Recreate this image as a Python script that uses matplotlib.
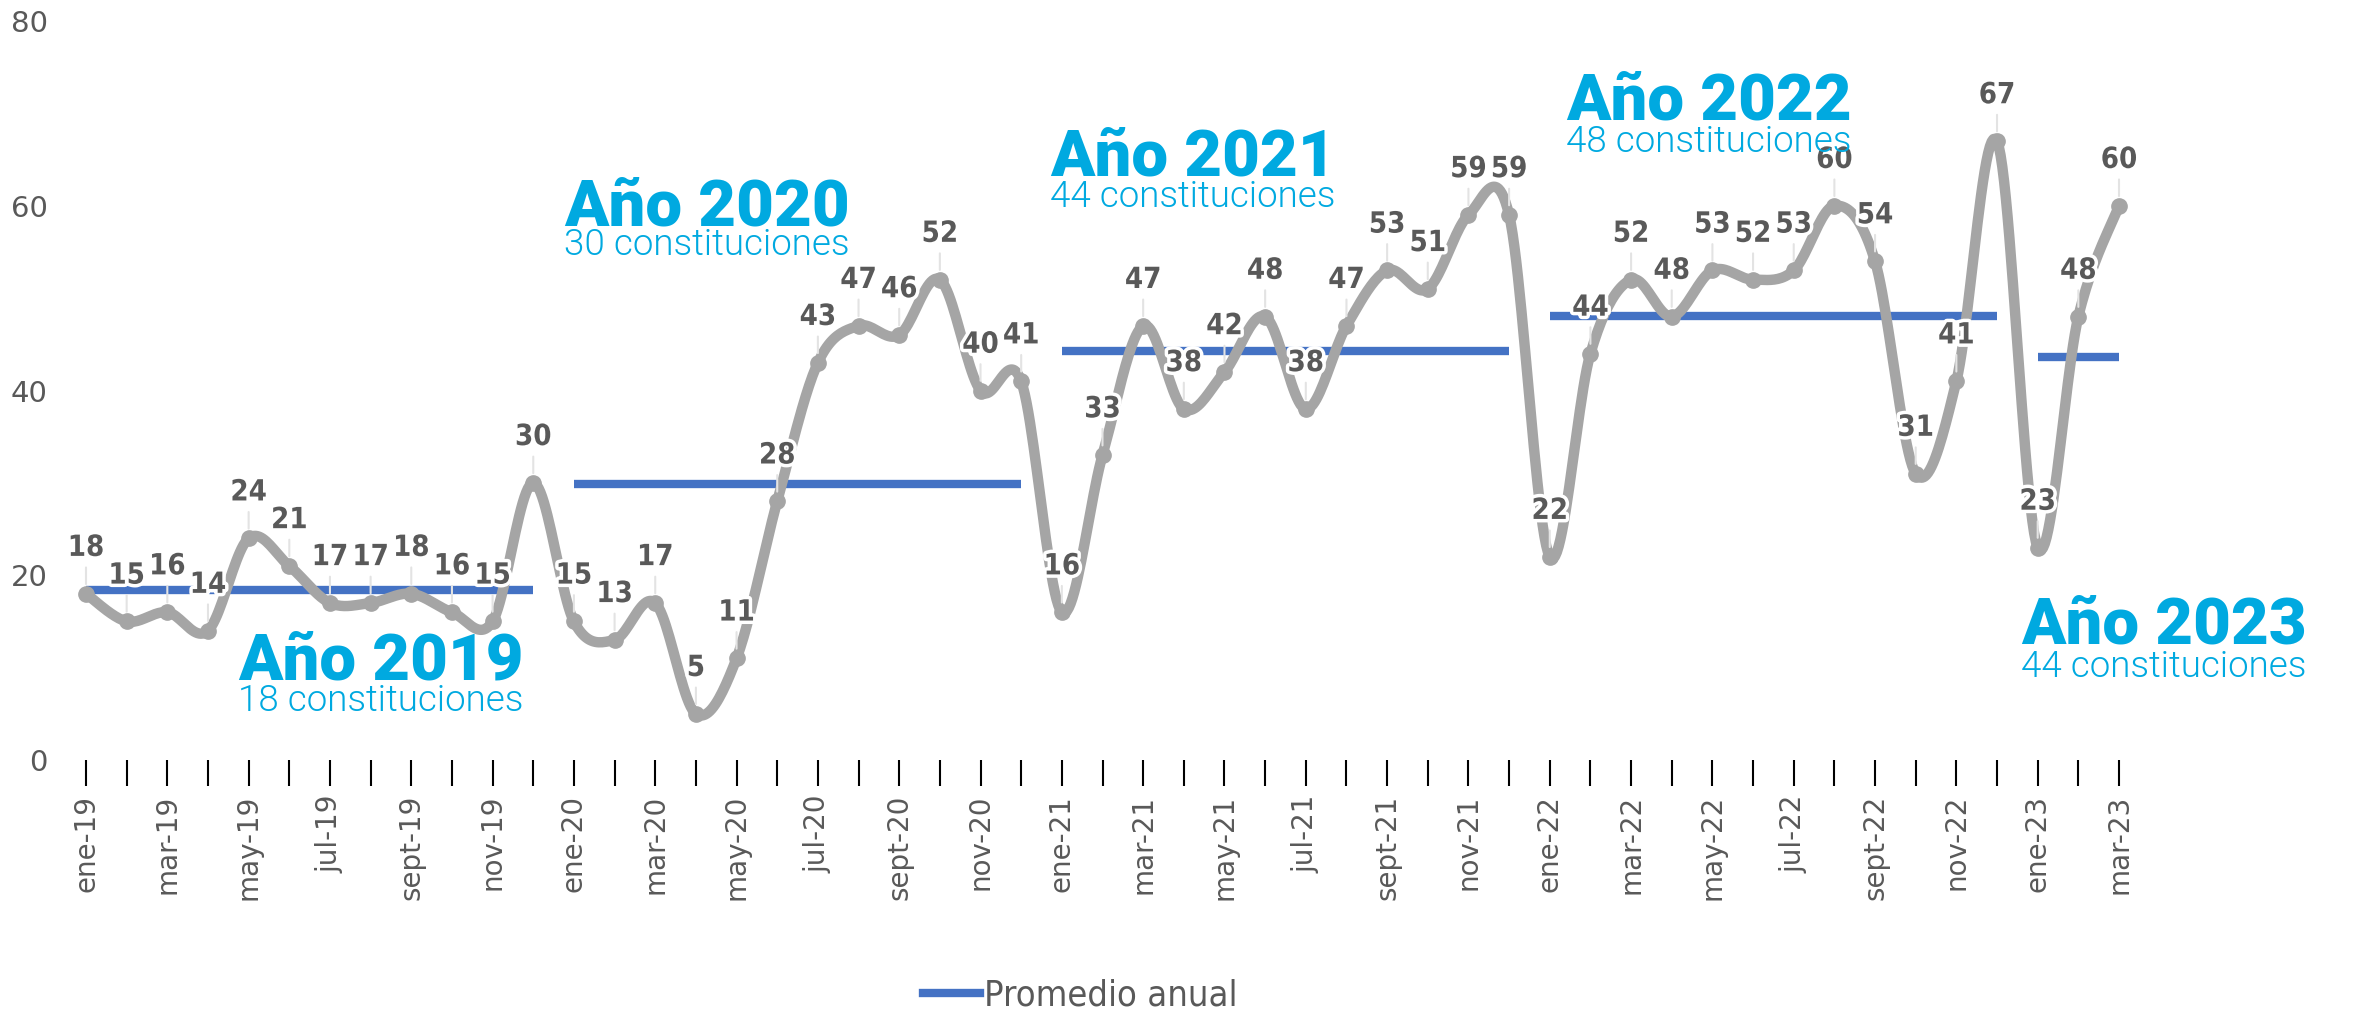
import matplotlib
matplotlib.use('Agg')
import matplotlib.pyplot as plt
import matplotlib.patheffects as pe
from matplotlib.lines import Line2D
import numpy as np

# monthly data, ene-19 .. mar-23
month_names = ['ene', 'feb', 'mar', 'abr', 'may', 'jun',
               'jul', 'ago', 'sept', 'oct', 'nov', 'dic']
years = [2019, 2020, 2021, 2022, 2023]
values_2019 = [18, 15, 16, 14, 24, 21, 17, 17, 18, 16, 15, 30]
values_2020 = [15, 13, 17, 5, 11, 28, 43, 47, 46, 52, 40, 41]
values_2021 = [16, 33, 47, 38, 42, 48, 38, 47, 53, 51, 59, 59]
values_2022 = [22, 44, 52, 48, 53, 52, 53, 60, 54, 31, 41, 67]
values_2023 = [23, 48, 60]
year_subtitles = ['18 constituciones', '30 constituciones', '44 constituciones',
                  '48 constituciones', '44 constituciones']

GRAY = '#A5A5A5'
BLUE = '#4472C4'
CYAN = '#00A9E0'
TXT = '#595959'

by_year = [values_2019, values_2020, values_2021, values_2022, values_2023]
values = np.array(sum(by_year, []), dtype=float)
labels = []
for yr, vals in zip(years, by_year):
    labels += [f"{month_names[k]}-{str(yr)[2:]}" for k in range(len(vals))]
x = np.arange(len(values))


def smooth(xs, ys, steps=24):
    """Bezier smoothing similar to the spreadsheet 'smoothed line'."""
    px = np.concatenate([[xs[0]], xs, [xs[-1]]])
    py = np.concatenate([[ys[0]], ys, [ys[-1]]])
    out_x, out_y = [], []
    t = np.linspace(0, 1, steps)
    for i in range(len(xs) - 1):
        p0x, p0y = px[i + 1], py[i + 1]
        p3x, p3y = px[i + 2], py[i + 2]
        c1x = p0x + (px[i + 2] - px[i]) / 6
        c1y = p0y + (py[i + 2] - py[i]) / 6
        c2x = p3x - (px[i + 3] - px[i + 1]) / 6
        c2y = p3y - (py[i + 3] - py[i + 1]) / 6
        bx = (1-t)**3*p0x + 3*(1-t)**2*t*c1x + 3*(1-t)*t**2*c2x + t**3*p3x
        by = (1-t)**3*p0y + 3*(1-t)**2*t*c1y + 3*(1-t)*t**2*c2y + t**3*p3y
        out_x.append(bx)
        out_y.append(by)
    return np.concatenate(out_x), np.concatenate(out_y)


fig = plt.figure(figsize=(23.6, 10.14), dpi=100)
W, H = 2360, 1014
step = 40.66
left_px = 86 - 0.6 * step
right_px = 86 + 50.6 * step
ax = fig.add_axes([left_px / W, 1 - 760 / H, (right_px - left_px) / W, 739 / H])

sx, sy = smooth(x.astype(float), values)
ax.plot(sx, sy, color=GRAY, lw=7.5, solid_capstyle='round', zorder=3)
ax.plot(x, values, 'o', color=GRAY, ms=11, zorder=3)

# yearly average segments
start = 0
for vals in by_year:
    idx = np.arange(start, start + len(vals))
    ax.plot([idx[0], idx[-1]], [np.mean(vals)] * 2, color=BLUE, lw=6,
            solid_capstyle='butt', zorder=2)
    start += len(vals)

# data labels with leader lines
for xi, v in zip(x, values):
    ax.annotate(f"{int(v)}", xy=(xi, v), xytext=(0, 33), textcoords='offset points',
                ha='center', va='center', fontsize=21, fontweight='bold', color=TXT,
                family='DejaVu Sans', fontstretch='condensed',
                path_effects=[pe.withStroke(linewidth=5, foreground='white')],
                arrowprops=dict(arrowstyle='-', color='#E3E3E3', lw=1.5,
                                shrinkA=2, shrinkB=7),
                zorder=5)

# year annotations (x in month index, baselines in data units)
note_pos = [(3.74, 8.7, 5.3), (11.76, 57.9, 54.7), (23.7, 63.3, 59.9),
            (36.4, 69.3, 65.8), (47.6, 12.6, 9.0)]
for yr, sub, (nx, ty, sy_) in zip(years, year_subtitles, note_pos):
    ax.text(nx, ty, f"Año {yr}", color=CYAN, fontsize=47, fontweight=900,
            family=['Roboto', 'DejaVu Sans'], ha='left', va='baseline', zorder=6)
    ax.text(nx, sy_, sub, color=CYAN, fontsize=26.5, fontweight=300,
            family=['Roboto', 'DejaVu Sans'], ha='left', va='baseline', zorder=6)

ax.set_xlim(-0.6, 50.6)
ax.set_ylim(0, 80)
ax.set_xticks(x)
ax.set_xticklabels([lab if i % 2 == 0 else '' for i, lab in enumerate(labels)],
                   rotation=90)
ax.set_yticks([0, 20, 40, 60, 80])
ax.tick_params(axis='x', length=19, width=1.5, color='black', labelcolor=TXT,
               labelsize=20, pad=6)
ax.tick_params(axis='y', length=0, labelcolor=TXT, labelsize=21, pad=10)
for s in ax.spines.values():
    s.set_visible(False)

fig.legend(handles=[Line2D([], [], color=BLUE, lw=6)], labels=['Promedio anual'],
           loc='center', bbox_to_anchor=(1080 / W, 1 - 996 / H), frameon=False,
           handlelength=1.6, handletextpad=0.1,
           prop=dict(family='DejaVu Sans', stretch='condensed', size=26),
           labelcolor=TXT)

fig.savefig('out.png', dpi=100)
